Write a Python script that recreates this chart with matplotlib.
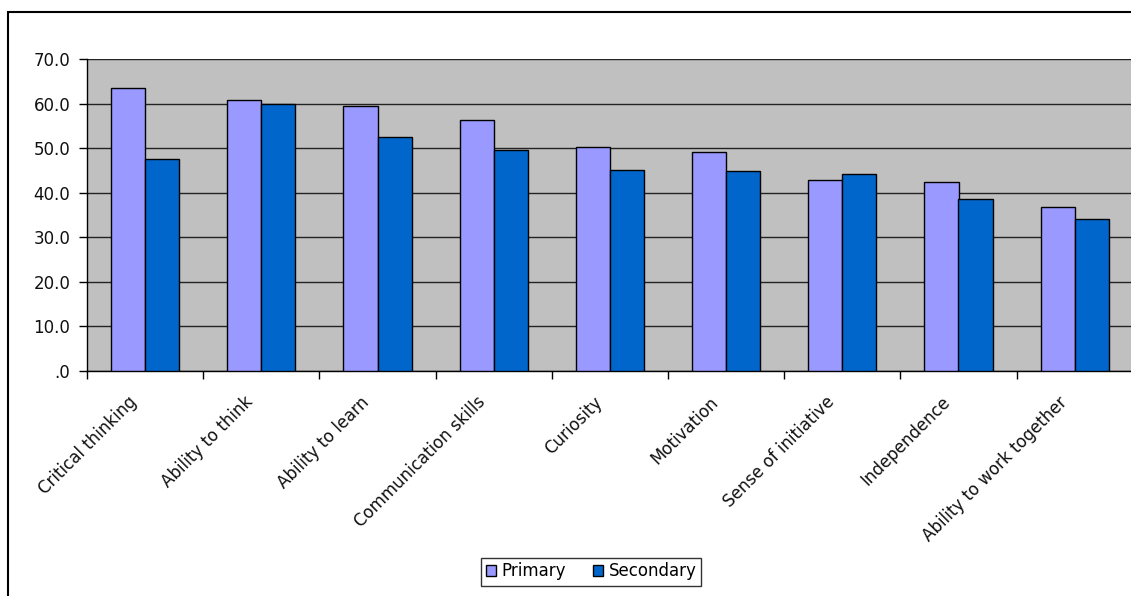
import matplotlib
matplotlib.use("Agg")
import matplotlib.pyplot as plt
import matplotlib.transforms as mtransforms
from matplotlib.patches import Rectangle, Patch
import numpy as np

categories = ["Critical thinking", "Ability to think", "Ability to learn",
              "Communication skills", "Curiosity", "Motivation",
              "Sense of initiative", "Independence", "Ability to work together"]
primary = [63.4, 60.8, 59.4, 56.4, 50.2, 49.1, 42.8, 42.4, 36.8]
secondary = [47.5, 60.0, 52.4, 49.5, 45.1, 44.8, 44.1, 38.5, 34.1]
series_names = ["Primary", "Secondary"]
yticks = [0, 10, 20, 30, 40, 50, 60, 70]
ytick_labels = [".0", "10.0", "20.0", "30.0", "40.0", "50.0", "60.0", "70.0"]

W, H = 1131, 596
dpi = 100
fig = plt.figure(figsize=(W / dpi, H / dpi), dpi=dpi)
fig.patch.set_facecolor("white")
plt.rcParams["font.family"] = ["DejaVu Sans"]
fs = 12

# outer chart frame
fig.patches.append(Rectangle((8 / W, -0.05), 1.2, (H - 12.5) / H + 0.05,
                             transform=fig.transFigure, fill=False,
                             edgecolor="black", linewidth=1.5, zorder=0))

left, right_px, top_px, bottom_px = 87, 87 + 9 * 116.2, 59, 371
ax = fig.add_axes([left / W, (H - bottom_px) / H, (right_px - left) / W,
                   (bottom_px - top_px) / H])
ax.set_facecolor("#C0C0C0")

x = np.arange(len(categories))
w = 0.293
ax.bar(x - w / 2, primary, w, color="#9999FF", edgecolor="black",
       linewidth=1.0, zorder=3, label=series_names[0])
ax.bar(x + w / 2, secondary, w, color="#0066CC", edgecolor="black",
       linewidth=1.0, zorder=3, label=series_names[1])

ax.set_xlim(-0.5, len(categories) - 0.5)
ax.set_ylim(0, 70)
ax.set_yticks(yticks)
ax.set_yticklabels(ytick_labels, fontsize=fs, color="#111111")
ax.yaxis.grid(True, color="#222222", linewidth=1.0, zorder=1)
ax.set_axisbelow(True)

ax.spines["top"].set_visible(False)
ax.spines["right"].set_visible(False)
ax.spines["left"].set_linewidth(1.0)
ax.spines["bottom"].set_linewidth(1.0)
ax.tick_params(axis="y", direction="out", length=6, width=1.0, pad=6)

# category boundary ticks
ax.set_xticks(np.arange(len(categories) + 1) - 0.5, minor=False)
ax.set_xticklabels([])
ax.tick_params(axis="x", direction="out", length=6, width=1.0)

# category labels
offset = mtransforms.ScaledTranslation(-17 / dpi, -22 / dpi, fig.dpi_scale_trans)
trans = ax.get_xaxis_transform() + offset
for xi, lab in zip(x, categories):
    ax.text(xi, 0, lab, transform=trans, rotation=45, ha="right", va="top",
            rotation_mode="anchor", fontsize=fs, color="#111111")

handles = [Patch(facecolor="#9999FF", edgecolor="black", linewidth=1.0),
           Patch(facecolor="#0066CC", edgecolor="black", linewidth=1.0)]
leg = fig.legend(handles, series_names, loc="center",
                 bbox_to_anchor=(591 / W, (H - 571.5) / H), ncol=2,
                 fontsize=fs, frameon=True, fancybox=False, shadow=False,
                 handlelength=0.65, handleheight=0.65, handletextpad=0.3,
                 columnspacing=1.6, borderpad=0.3)
leg.get_frame().set_edgecolor("black")
leg.get_frame().set_linewidth(1.0)

fig.savefig("out.png", dpi=dpi)
